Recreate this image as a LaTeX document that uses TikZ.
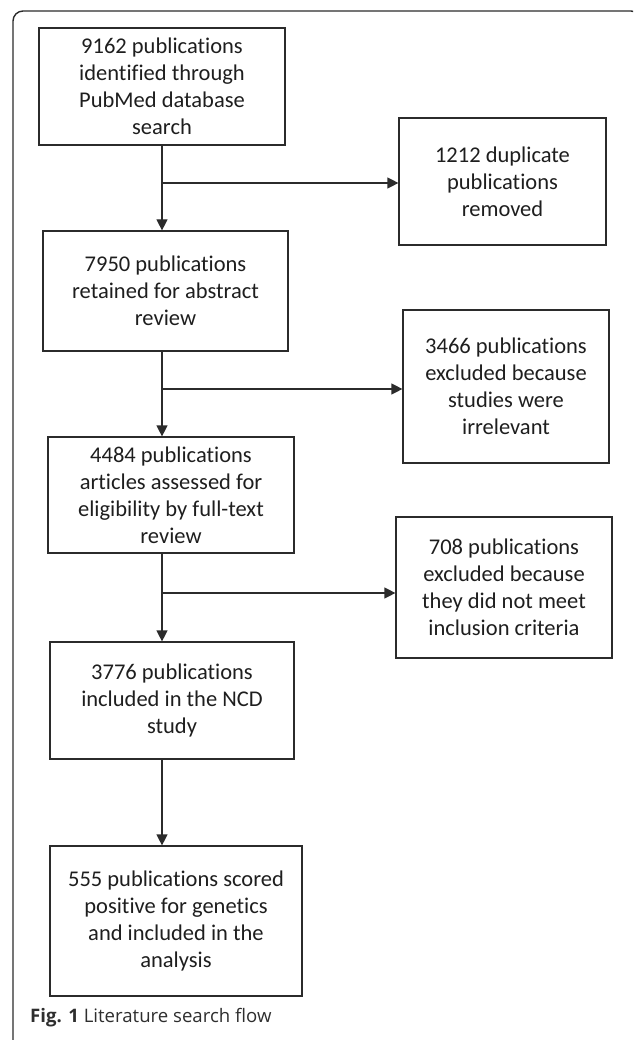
\documentclass[tikz,border=0pt]{standalone}
\usepackage{fontspec}
\setmainfont[Ligatures={NoCommon}]{Carlito}
\newfontfamily\capfont{Open Sans}
\usetikzlibrary{arrows.meta}
\definecolor{linec}{HTML}{2B2B2B}
\definecolor{textc}{HTML}{1E1E1E}
\definecolor{capc}{HTML}{2E2E2E}
\tikzset{
  box/.style={draw=linec, line width=1.2pt, align=center, text=textc,
    font=\fontsize{22.5}{27}\selectfont, inner sep=0pt},
  arr/.style={draw=linec, line width=1.2pt, -{Triangle[length=11pt,width=11pt]}},
  frame/.style={draw=linec, line width=1.4pt, rounded corners=10pt}
}
\begin{document}
\begin{tikzpicture}[x=1pt,y=-1pt]
\useasboundingbox (0,0) rectangle (633,1040);
\begin{scope}
  \clip (0,0) rectangle (633,1040);
  \draw[frame] (13,1043) -- (13,11) -- (641,11) -- (641,1043);
\end{scope}

\node[box, minimum width=246pt, minimum height=117pt] (b1) at (162,86.5)
  {9162 publications\\identified through\\PubMed database\\search};
\node[box, minimum width=207pt, minimum height=127pt] (dup) at (502.5,181.5)
  {1212 duplicate\\publications\\removed};
\node[box, minimum width=245pt, minimum height=120pt] (b2) at (165.5,291)
  {7950 publications\\retained for abstract\\review};
\node[box, minimum width=206pt, minimum height=153pt] (irr) at (506,386.5)
  {3466 publications\\excluded because\\studies were\\irrelevant};
\node[box, minimum width=246pt, minimum height=116pt] (b3) at (171,495)
  {4484 publications\\articles assessed for\\eligibility by full-text\\review};
\node[box, minimum width=216pt, minimum height=141pt] (exc) at (504,587.5)
  {708 publications\\excluded because\\they did not meet\\inclusion criteria};
\node[box, minimum width=244pt, minimum height=117pt] (b4) at (172,700.5)
  {3776 publications\\included in the NCD\\study};
\node[box, minimum width=252pt, minimum height=150pt] (b5) at (176,921)
  {555 publications scored\\positive for genetics\\and included in the\\analysis};

\coordinate (spine) at (162,0);
\coordinate (j1) at (162,183);
\coordinate (j2) at (162,389);
\coordinate (j3) at (162,593);

\draw[arr] (b1.south -| spine) -- (b2.north -| spine);
\draw[arr] (b2.south -| spine) -- (b3.north -| spine);
\draw[arr] (b3.south -| spine) -- (b4.north -| spine);
\draw[arr] (b4.south -| spine) -- (b5.north -| spine);

\draw[arr] (j1) -- (j1 -| dup.west);
\draw[arr] (j2) -- (j2 -| irr.west);
\draw[arr] (j3) -- (j3 -| exc.west);

\node[anchor=base west, inner sep=0pt, text=capc, font=\capfont\fontsize{18.6}{22}\selectfont] (cap) at (30,1022)
  {\textbf{Fig. 1} Literature search flow};
\end{tikzpicture}
\end{document}
